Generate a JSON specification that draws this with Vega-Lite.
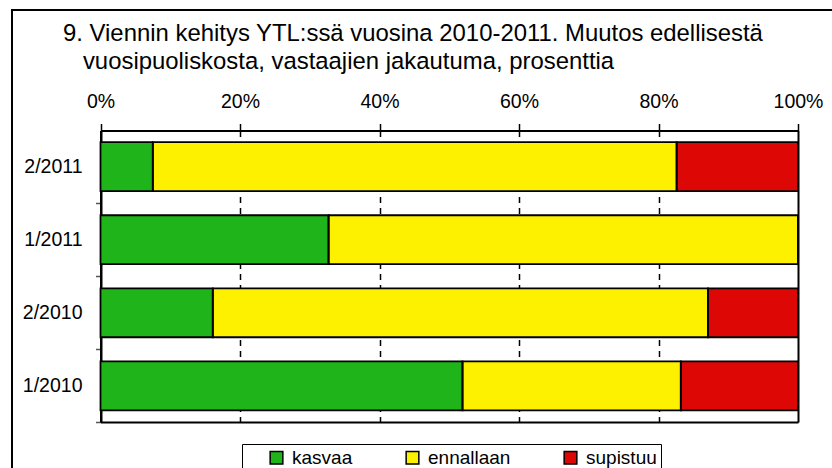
{
  "$schema": "https://vega.github.io/schema/vega-lite/v6.json",
  "width": 830,
  "height": 468,
  "autosize": {"type": "none"},
  "padding": {"left": 12, "top": 10, "right": -10, "bottom": -10},
  "background": "white",
  "config": {
    "font": "Liberation Sans",
    "view": {"stroke": "black", "strokeWidth": 2}
  },
  "title": {
    "text": ["9. Viennin kehitys YTL:ssä vuosina 2010-2011. Muutos edellisestä", "\u200b\u00a0\u00a0\u00a0vuosipuoliskosta, vastaajien jakautuma, prosenttia"],
    "anchor": "start",
    "frame": "group",
    "orient": "top",
    "offset": -83,
    "dx": 51,
    "baseline": "alphabetic",
    "lineHeight": 28,
    "fontSize": 23.9,
    "fontWeight": "normal",
    "color": "black",
    "font": "Liberation Sans"
  },
  "data": {
    "values": [
      {"period": "2/2011", "category": "kasvaa", "value": 7.5, "idx": 1},
      {"period": "2/2011", "category": "ennallaan", "value": 75.1, "idx": 2},
      {"period": "2/2011", "category": "supistuu", "value": 17.4, "idx": 3},
      {"period": "1/2011", "category": "kasvaa", "value": 32.7, "idx": 1},
      {"period": "1/2011", "category": "ennallaan", "value": 67.3, "idx": 2},
      {"period": "1/2011", "category": "supistuu", "value": 0, "idx": 3},
      {"period": "2/2010", "category": "kasvaa", "value": 16.1, "idx": 1},
      {"period": "2/2010", "category": "ennallaan", "value": 71.0, "idx": 2},
      {"period": "2/2010", "category": "supistuu", "value": 12.9, "idx": 3},
      {"period": "1/2010", "category": "kasvaa", "value": 51.9, "idx": 1},
      {"period": "1/2010", "category": "ennallaan", "value": 31.3, "idx": 2},
      {"period": "1/2010", "category": "supistuu", "value": 16.8, "idx": 3}
    ]
  },
  "encoding": {
    "y": {
      "field": "period",
      "type": "nominal",
      "sort": null,
      "scale": {"range": [120.5, 412], "paddingInner": 0.33, "paddingOuter": 0.16},
      "axis": {
        "orient": "left",
        "offset": -88.5,
        "title": null,
        "labelFontSize": 19.5,
        "labelColor": "black",
        "labelFont": "Liberation Sans",
        "labelPadding": 13.5,
        "tickSize": 5,
        "tickColor": "#555555",
        "tickWidth": 1.5,
        "bandPosition": 1,
        "tickExtra": false,
        "tickOffset": 12,
        "labelOffset": -12,
        "domainColor": "black",
        "domainWidth": 2,
        "grid": false
      }
    }
  },
  "layer": [
    {
      "mark": {"type": "bar", "strokeWidth": 0},
      "encoding": {
        "x": {
          "field": "value",
          "type": "quantitative",
          "stack": "zero",
          "scale": {"domain": [0, 100], "range": [88.5, 786], "nice": false},
          "axis": {
            "orient": "top",
            "offset": -120.5,
            "values": [0, 20, 40, 60, 80, 100],
            "labelExpr": "datum.value + '%'",
            "labelFontSize": 19.5,
            "labelColor": "black",
            "labelFont": "Liberation Sans",
            "labelPadding": 12,
            "labelFlush": false,
            "labelOverlap": false,
            "tickSize": 7,
            "tickColor": "black",
            "tickWidth": 1.5,
            "domainColor": "black",
            "domainWidth": 2,
            "grid": true,
            "gridColor": "black",
            "gridWidth": {"condition": {"test": "datum.value === 0 || datum.value === 100", "value": 2}, "value": 1.5},
            "gridDash": {"condition": {"test": "datum.value === 0 || datum.value === 100", "value": []}, "value": [6, 5]},
            "title": null
          }
        },
        "color": {
          "field": "category",
          "type": "nominal",
          "scale": {"domain": ["kasvaa", "ennallaan", "supistuu"], "range": ["#1fb51a", "#fdf100", "#dd0806"]},
          "legend": {
            "orient": "none",
            "legendX": 230,
            "legendY": 434,
            "direction": "horizontal",
            "title": null,
            "symbolType": "square",
            "symbolSize": 161,
            "symbolStrokeColor": "black",
            "symbolStrokeWidth": 1.5,
            "symbolOpacity": 1,
            "symbolOffset": 21,
            "labelFontSize": 19,
            "labelColor": "black",
            "labelFont": "Liberation Sans",
            "labelOffset": 6,
            "columnPadding": 29,
            "padding": 4,
            "strokeColor": "black",
            "fillColor": "white"
          }
        },
        "order": {"field": "idx", "type": "quantitative"}
      }
    },
    {
      "mark": {"type": "bar", "filled": false, "stroke": "black", "strokeWidth": 1.8},
      "encoding": {
        "x": {
          "field": "value",
          "type": "quantitative",
          "stack": "zero",
          "scale": {"domain": [0, 100], "range": [88.5, 786], "nice": false},
          "axis": {
            "orient": "bottom",
            "offset": -56,
            "labels": false,
            "ticks": false,
            "grid": false,
            "domainColor": "black",
            "domainWidth": 2,
            "title": null
          }
        },
        "detail": {"field": "category"},
        "order": {"field": "idx", "type": "quantitative"}
      }
    }
  ],
  "resolve": {"axis": {"x": "independent"}}
}
